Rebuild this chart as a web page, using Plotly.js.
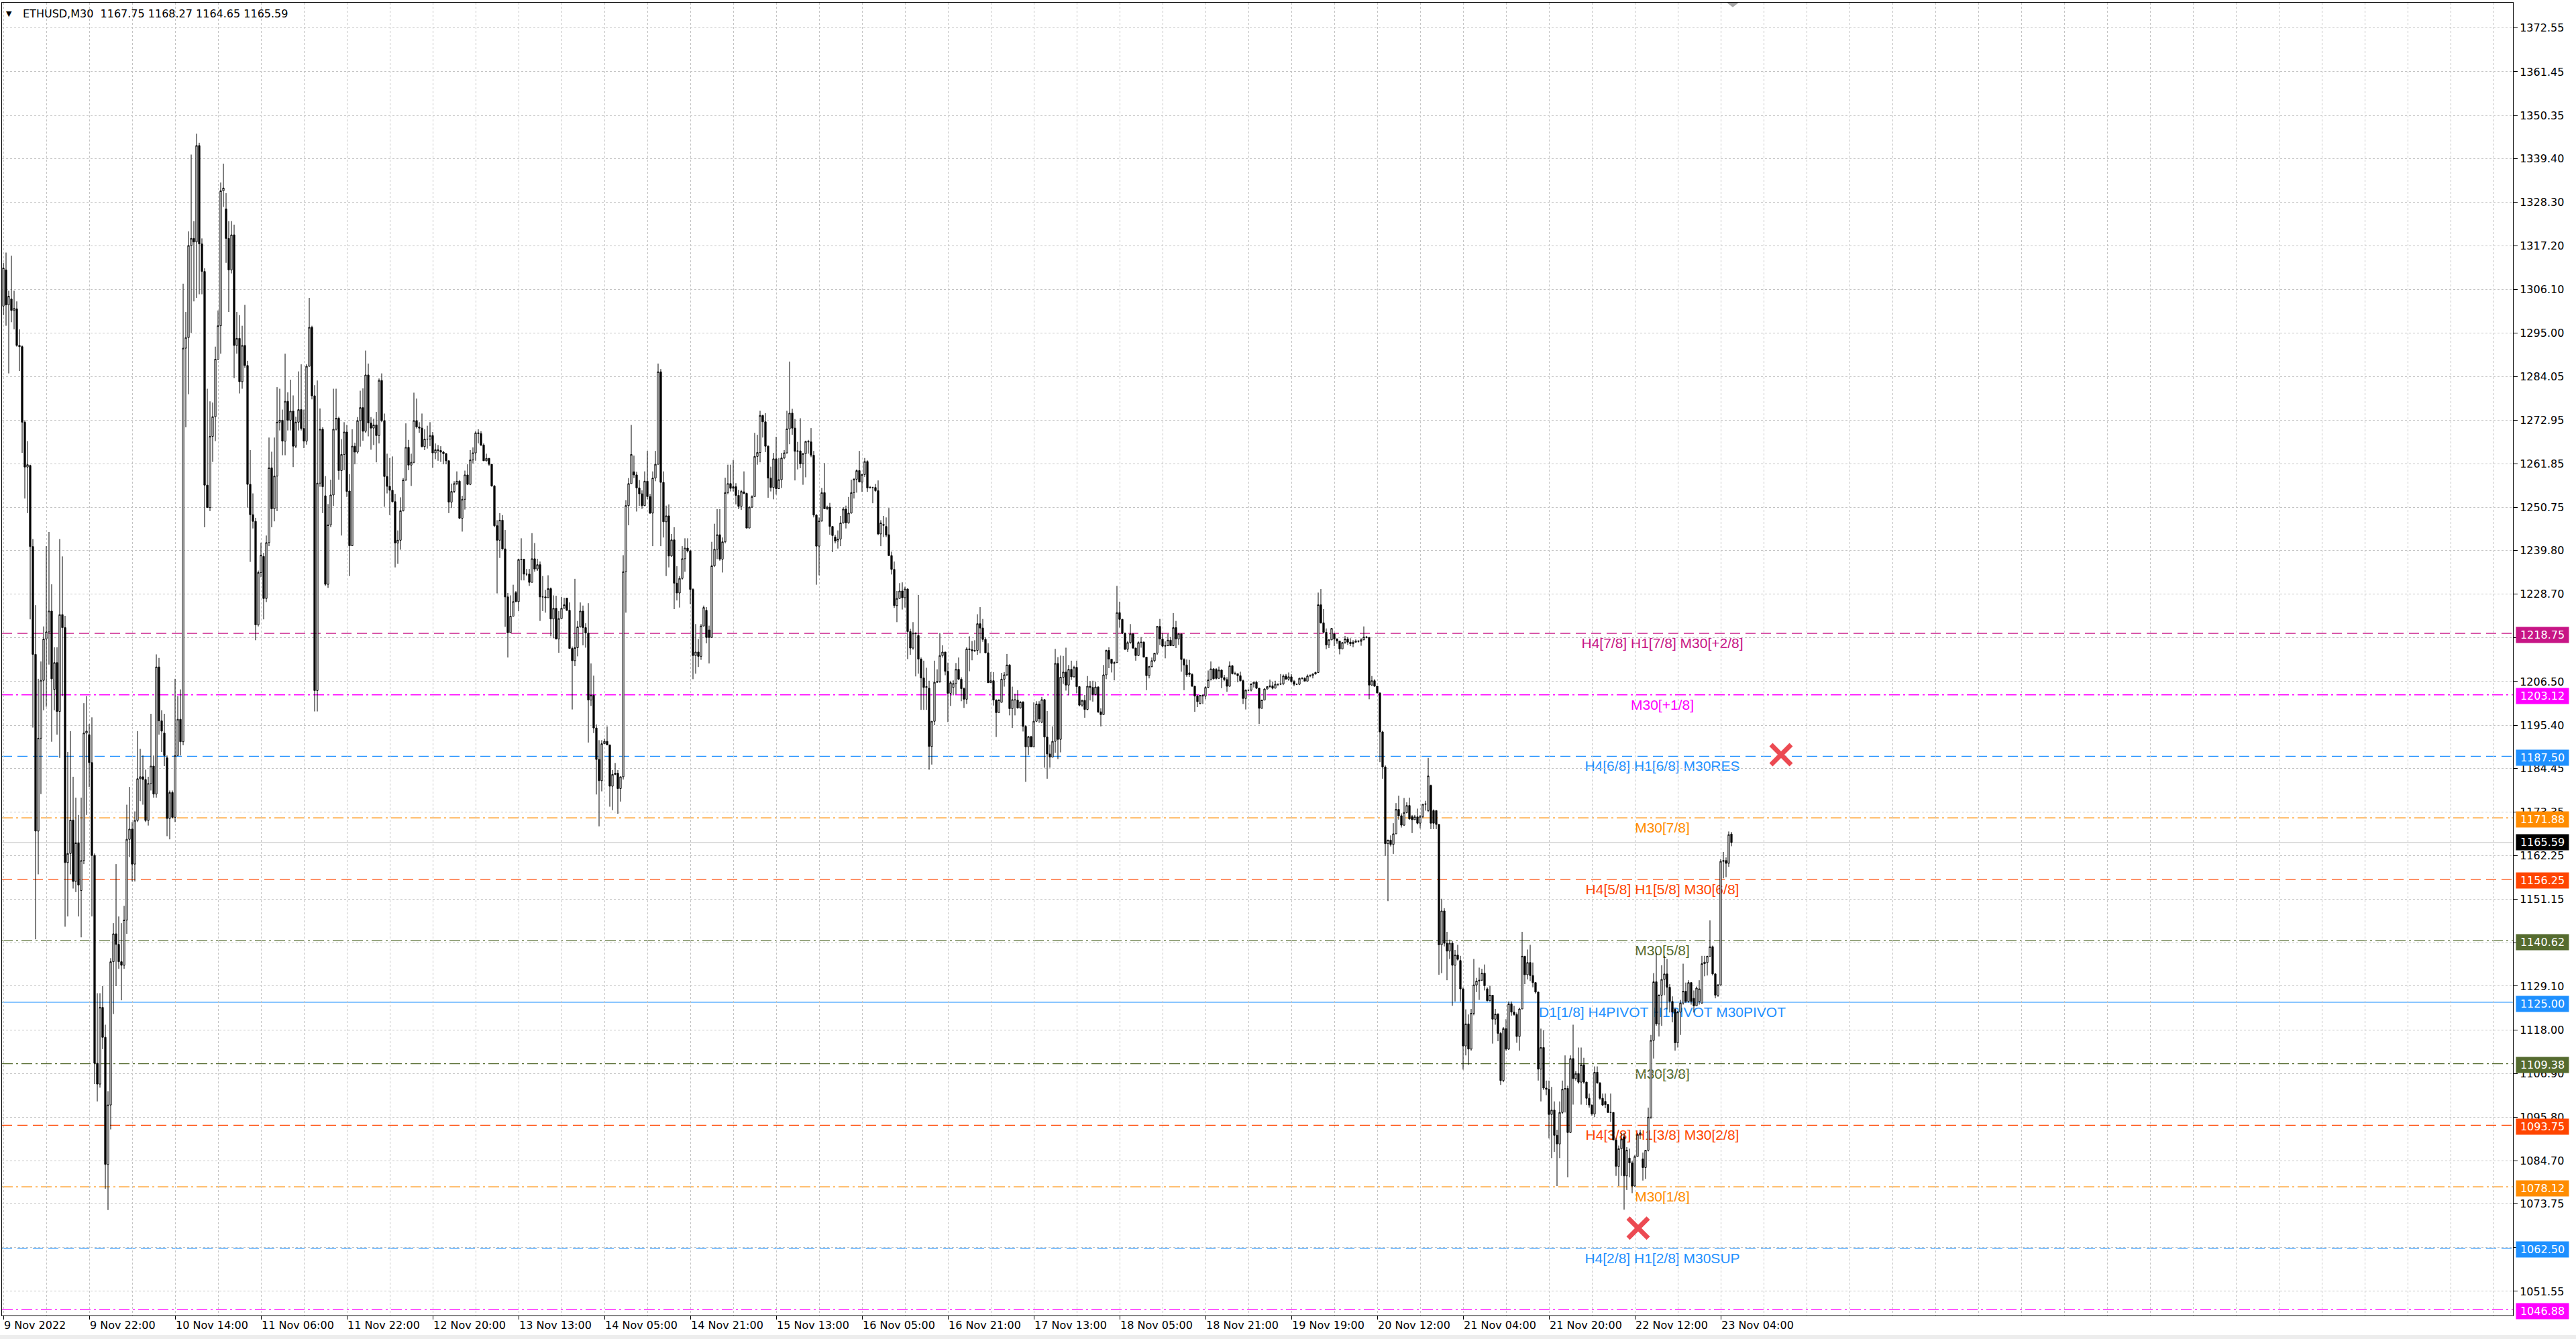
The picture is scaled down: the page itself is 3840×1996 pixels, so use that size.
<!DOCTYPE html>
<html>
<head>
<meta charset="utf-8">
<script src="https://cdn.plot.ly/plotly-3.0.1.min.js"></script>
<style>
  html, body { margin: 0; padding: 0; background: #ffffff; }
  #chart { width: 3840px; height: 1996px; }
</style>
</head>
<body>
<div id="chart"></div>
<script>
// ---------------- DATA (ETHUSD, M30) ----------------
const symbolTitle = "ETHUSD,M30";

const opens = [
1301.9,1311.1,1302.2,1303.7,1300.8,1301.2,1291.9,1291.6,1272.4,1261.0,
1261.4,1240.8,1213.4,1168.5,1192.1,1206.8,1217.3,1219.1,1224.4,1204.5,
1211.3,1198.9,1223.5,1220.2,1160.5,1162.8,1171.3,1155.7,1165.5,1153.4,
1161.0,1193.4,1193.0,1185.9,1162.3,1109.5,1104.2,1123.7,1116.1,1083.8,
1098.9,1135.3,1142.4,1139.7,1135.3,1134.4,1145.9,1166.4,1169.0,1160.1,
1171.2,1181.8,1182.3,1181.6,1171.2,1180.6,1185.0,1177.9,1210.2,1196.5,
1193.4,1187.1,1171.7,1178.3,1172.0,1187.7,1196.9,1191.2,1291.2,1293.9,
1317.3,1319.1,1318.2,1342.7,1317.7,1310.7,1256.4,1250.7,1268.8,1273.8,
1288.4,1296.9,1331.2,1326.6,1319.1,1311.1,1320.0,1291.9,1293.7,1282.7,
1291.9,1286.8,1256.6,1248.9,1247.2,1220.9,1234.2,1238.3,1227.6,1241.8,
1260.8,1250.4,1258.7,1272.4,1272.9,1267.6,1277.7,1272.9,1275.2,1266.3,
1272.4,1275.6,1270.8,1267.6,1286.6,1296.5,1279.1,1204.2,1256.9,1270.6,
1253.7,1231.2,1246.3,1253.9,1270.6,1273.4,1260.1,1264.2,1269.9,
1254.9,1241.0,1266.3,1264.8,1272.8,1276.1,1270.1,1284.4,1272.2,1270.9,
1271.7,1269.0,1283.0,1272.8,1258.6,1256.1,1255.1,1252.2,1241.7,1242.4,
1249.9,1257.7,1266.0,1261.5,1262.2,1272.8,1271.2,1270.9,1266.2,1268.1,
1268.1,1269.0,1264.6,1265.4,1265.2,1264.8,1264.4,1262.6,1252.1,1254.8,
1256.8,1257.4,1248.0,1252.8,1259.0,1256.6,1262.8,1264.6,1269.7,1269.5,
1266.6,1262.6,1263.2,1261.7,1256.2,1246.1,1242.4,1247.5,1240.2,1228.0,
1218.9,1223.1,1229.1,1226.8,1237.5,1237.6,1233.8,1233.8,1231.7,1237.7,
1235.1,1236.2,1228.0,1228.0,1227.8,1230.1,1222.4,1225.1,1217.3,1222.5,
1225.1,1227.7,1224.6,1214.9,1211.8,1215.1,1220.4,1224.4,1220.2,1218.8,
1201.8,1203.0,1194.7,1186.7,1181.3,1190.7,1191.3,1190.4,1179.9,1182.9,
1183.2,1179.3,1182.3,1234.4,1251.2,1256.8,1259.8,1259.0,1255.7,1254.2,
1251.2,1257.4,1253.5,1249.3,1258.2,1261.7,1285.2,1257.1,1247.1,1248.6,
1238.4,1242.5,1231.5,1229.0,1232.7,1237.7,1240.4,1239.7,1229.9,1213.1,
1214.0,1212.9,1220.6,
1224.6,1219.6,1217.7,1235.9,1240.1,1243.8,1237.6,1242.0,1254.5,1256.8,
1255.6,1256.0,1253.8,1251.0,1254.7,1254.3,1245.5,1250.8,1253.5,1263.7,
1264.7,1274.1,1272.5,1266.3,1258.2,1255.8,1263.1,1255.5,1257.8,1263.3,
1264.6,1270.7,1274.7,1270.9,1265.0,1265.1,1261.8,1264.4,1267.5,1267.4,
1264.0,1248.8,1240.9,1247.3,1254.5,1250.4,1250.8,1245.9,1243.2,1242.2,
1242.7,1246.8,1250.3,1246.8,1249.3,1254.5,1257.9,1260.1,1257.2,1259.1,
1262.4,1255.7,1255.8,1255.8,1255.0,1244.0,1246.4,1245.9,1243.8,1238.5,
1235.0,1225.8,1227.6,1229.5,1227.8,1230.0,1219.2,1215.0,1218.8,1218.2,
1212.2,1207.4,1205.0,1204.8,1190.0,1196.4,1206.3,1206.5,1213.1,1214.0,
1209.1,1203.5,1205.0,1206.0,1209.6,1207.1,1204.7,1202.0,1214.8,1214.6,
1214.3,1214.4,1221.2,1220.1,1217.2,1213.8,1206.2,1206.7,1201.8,1198.6,
1201.2,1207.1,1208.2,1210.7,1199.6,1201.9,1201.8,1199.8,1201.3,1195.1,
1189.9,1192.5,1189.9,1196.4,1200.8,1196.2,1201.9,1192.4,1188.1,
1187.3,1191.3,1211.1,1191.8,1207.6,1208.9,1205.6,1209.6,1207.7,1210.1,
1205.2,1200.5,1201.7,1199.4,1205.3,1205.0,1203.2,1205.1,1198.8,1198.1,
1208.2,1214.4,1212.2,1211.1,1211.3,1224.0,1222.3,1218.8,1214.7,1216.4,
1218.6,1215.0,1213.1,1216.4,1216.5,1212.7,1208.0,1210.3,1211.8,1213.7,
1220.5,1217.3,1215.5,1215.6,1217.0,1215.6,1220.2,1217.3,1218.6,1212.1,
1210.7,1208.7,1208.3,1205.3,1202.8,1200.9,1203.0,1202.8,1205.0,1206.9,
1209.7,1209.6,1207.3,1209.4,1207.5,1207.0,1205.3,1210.5,1208.5,1208.5,
1208.0,1206.7,1202.2,1204.3,1204.3,1205.9,1206.3,1204.8,1199.7,1201.8,
1204.6,1205.2,1205.4,1204.8,1205.8,1205.8,1205.9,1207.9,1207.1,1207.7,
1206.5,1205.8,1205.8,1207.3,1207.3,1206.6,1207.9,1208.0,1208.4,1208.8,
1226.0,1221.4,1219.0,1215.8,1217.1,1218.6,1217.3,1216.8,1214.8,1216.4,
1217.3,1216.5,1216.1,1216.5,1216.8,1216.7,1217.1,1217.8,1217.7,1205.6,
1206.7,1205.3,1203.6,1193.7,1184.8,1165.3,1166.2,1165.1,1167.8,1174.0,
1172.4,1170.0,1173.2,1175.0,1172.2,1171.4,1172.1,1170.5,1172.2,1175.3,
1173.7,1180.1,1173.7,1173.7,1170.2,1139.6,1148.2,1140.0,1138.0,1140.0,
1134.4,1137.0,1135.6,1128.4,1113.9,1119.5,1113.1,1122.2,1129.4,1130.4,
1130.6,1132.4,1128.4,1125.4,1126.8,1120.7,1122.0,1117.1,1105.1,1118.3,
1113.1,1124.6,1122.5,1121.9,1116.3,1123.3,1136.7,1132.0,1135.1,1131.8,
1130.0,1127.6,1108.0,1113.5,1103.2,1102.9,1096.5,1097.6,1091.2,1089.0,
1097.0,1102.9,1103.1,1091.9,1110.7,1105.6,1106.9,1104.7,1109.1,1104.7,
1100.6,1098.9,1096.6,1107.2,1104.5,1100.6,1099.8,1099.0,1097.0,1097.0,
1090.0,1083.3,1087.8,1090.8,1080.9,1085.4,1084.2,1078.3,1085.8,1091.4,
1085.2,1083.0,1087.4,1095.8,1115.3,1130.2,1119.5,1126.8,1130.8,1132.2,
1128.8,1125.2,1123.2,1114.7,1122.5,1124.8,1127.8,1125.2,1130.0,1126.0,
1124.1,1125.2,1124.8,1134.8,1135.1,1136.7,1139.1,1132.2,1126.8,1129.4,
1160.8,1161.0,1160.3,1167.75
];

const highs = [
1312.9,1315.5,1305.8,1314.7,1305.8,1303.1,1296.0,1291.9,1272.9,1267.6,
1261.6,1242.7,1225.9,1207.2,1211.6,1220.5,1240.9,1244.5,1231.2,1215.2,
1215.2,1242.7,1238.3,1223.2,1188.6,1193.9,1182.3,1177.0,1172.6,1177.0,
1201.0,1202.8,1195.7,1197.4,1162.8,1127.3,1127.3,1129.1,1119.3,1102.4,
1136.2,1145.1,1160.1,1146.8,1145.1,1149.5,1175.2,1179.7,1170.8,1173.5,
1193.9,1189.4,1187.7,1184.1,1182.3,1198.3,1187.7,1213.4,1212.5,1199.2,
1198.3,1187.7,1178.8,1178.8,1207.2,1202.8,1204.5,1307.6,1300.4,1320.9,
1340.4,1323.5,1345.7,1343.4,1319.1,1311.5,1280.9,1277.7,1277.4,1291.6,
1300.8,1333.3,1338.1,1330.6,1323.5,1323.5,1322.6,1300.4,1299.6,1296.9,
1302.2,1288.0,1265.3,1254.3,1248.1,1234.7,1241.8,1239.2,1243.6,1268.5,
1264.9,1268.5,1281.3,1280.9,1275.6,1289.8,1280.0,1283.2,1279.2,1273.8,
1285.3,1287.1,1275.6,1287.1,1304.0,1296.9,1281.8,1283.0,1275.9,1271.1,
1258.7,1251.6,1257.8,1280.9,1280.9,1273.8,1268.1,1272.4,1271.7,
1259.2,1270.6,1267.2,1273.7,1280.4,1281.0,1290.6,1287.3,1273.7,1273.3,
1275.0,1283.5,1284.8,1274.6,1264.4,1263.3,1263.7,1254.2,1244.9,1253.3,
1258.2,1272.1,1267.9,1264.4,1279.9,1278.4,1272.4,1274.6,1270.6,1271.5,
1272.4,1269.9,1267.0,1266.6,1266.3,1265.1,1264.6,1262.6,1256.8,1257.4,
1259.9,1257.7,1253.7,1260.1,1261.7,1265.3,1266.0,1270.1,1270.6,1270.1,
1267.0,1264.4,1263.3,1261.7,1256.4,1247.5,1249.3,1248.8,1245.0,1229.0,
1228.4,1231.1,1229.5,1237.7,1242.9,1237.7,1235.1,1235.1,1244.2,1241.7,
1237.7,1237.0,1233.3,1229.8,1233.5,1230.4,1228.4,1228.3,1224.4,1228.0,
1227.8,1227.8,1226.6,1215.4,1232.6,1221.9,1226.6,1225.8,1221.3,1226.4,
1211.1,1208.0,1195.6,1191.6,1191.6,1192.0,1195.1,1190.4,1184.0,1185.8,
1184.0,1182.3,1238.6,1252.6,1258.2,1271.7,1263.9,1259.8,1257.7,1255.1,
1259.9,1265.1,1254.2,1259.9,1265.1,1287.3,1285.9,1259.9,1251.2,1251.5,
1244.0,1245.7,1235.8,1233.3,1240.9,1242.9,1242.9,1240.0,1230.2,1221.1,
1217.3,1221.1,1225.8,
1225.4,1220.7,1242.0,1246.6,1250.3,1250.3,1243.1,1258.3,1261.6,1261.6,
1262.8,1256.9,1255.2,1255.2,1259.9,1254.5,1251.0,1253.8,1269.7,1269.2,
1275.3,1274.3,1274.7,1266.5,1261.1,1264.6,1268.7,1263.3,1264.6,1265.3,
1275.3,1287.8,1275.8,1273.2,1267.4,1273.4,1264.6,1267.7,1267.9,1270.9,
1265.1,1249.0,1248.2,1255.7,1262.0,1251.2,1251.9,1245.9,1243.8,1244.9,
1248.6,1250.8,1251.2,1253.4,1257.8,1258.2,1260.4,1265.1,1259.3,1263.3,
1262.7,1256.2,1256.0,1256.7,1257.6,1247.5,1248.6,1248.2,1250.6,1239.5,
1237.0,1229.5,1231.5,1231.7,1230.6,1230.2,1219.9,1221.6,1219.0,1228.5,
1212.6,1211.8,1210.0,1206.7,1196.4,1211.8,1209.6,1218.8,1215.7,1214.0,
1211.3,1206.7,1206.8,1211.2,1212.6,1207.6,1205.0,1215.2,1218.0,1216.8,
1217.0,1223.6,1225.4,1222.4,1217.7,1216.2,1208.9,1208.9,1202.0,1202.0,
1208.7,1208.9,1213.5,1210.9,1205.2,1203.4,1204.3,1201.5,1201.5,1195.4,
1192.7,1192.7,1201.2,1201.5,1201.5,1202.6,1202.0,1199.0,1190.5,
1195.1,1214.8,1212.7,1213.1,1213.0,1215.1,1210.7,1211.8,1210.5,1211.8,
1205.3,1201.9,1203.1,1207.9,1206.6,1206.7,1206.5,1205.3,1199.7,1210.7,
1214.6,1215.2,1212.2,1211.6,1230.8,1226.8,1222.4,1218.8,1216.8,1221.1,
1218.8,1215.1,1216.7,1217.8,1216.7,1212.8,1210.5,1212.6,1213.7,1220.6,
1222.4,1218.8,1216.7,1218.6,1217.8,1223.9,1221.9,1218.8,1218.6,1212.4,
1212.1,1212.0,1208.6,1205.4,1203.1,1203.1,1203.3,1205.3,1209.3,1211.6,
1209.9,1209.9,1210.3,1209.6,1208.2,1207.6,1211.6,1210.7,1209.0,1208.5,
1209.0,1207.0,1204.5,1204.5,1206.0,1206.5,1206.7,1204.9,1201.9,1204.8,
1205.2,1207.0,1206.5,1206.7,1206.0,1208.4,1208.3,1208.4,1208.8,1208.4,
1206.9,1206.0,1207.5,1207.6,1207.6,1208.3,1208.3,1208.6,1209.0,1229.1,
1230.0,1224.9,1220.0,1217.3,1220.0,1218.9,1217.5,1216.8,1216.5,1218.1,
1217.8,1217.5,1217.0,1217.2,1217.0,1217.5,1220.5,1218.1,1217.8,1207.9,
1207.1,1205.4,1203.7,1194.0,1185.2,1166.3,1167.4,1170.5,1175.6,1177.5,
1173.0,1176.9,1175.8,1177.0,1172.6,1172.6,1174.2,1172.6,1175.4,1176.2,
1187.1,1180.3,1174.0,1173.8,1170.2,1151.3,1148.9,1142.9,1140.9,1140.5,
1138.3,1139.6,1136.8,1128.8,1123.2,1121.9,1123.3,1136.0,1131.2,1133.8,
1133.5,1134.6,1128.8,1129.2,1126.8,1123.3,1122.2,1117.5,1118.7,1120.7,
1125.2,1125.2,1124.1,1122.4,1123.6,1142.9,1136.8,1138.4,1139.6,1135.1,
1130.0,1127.6,1118.3,1117.9,1105.1,1105.1,1103.5,1099.8,1092.6,1099.8,
1105.1,1111.5,1103.8,1111.5,1119.3,1107.5,1113.5,1113.5,1110.9,1104.8,
1101.8,1099.0,1108.7,1108.7,1104.7,1101.8,1101.8,1099.0,1101.8,1097.0,
1090.6,1088.6,1091.8,1091.8,1088.2,1087.8,1084.7,1086.2,1091.8,1092.6,
1086.8,1087.4,1098.2,1116.7,1132.4,1137.6,1127.0,1134.4,1136.8,1136.0,
1129.6,1126.5,1123.6,1122.8,1125.6,1134.8,1130.0,1130.6,1130.0,1128.0,
1129.0,1130.6,1136.8,1136.8,1136.8,1145.8,1139.4,1132.4,1129.6,1161.4,
1163.2,1161.8,1168.4,1168.27
];

const lows = [
1299.6,1296.9,1284.8,1297.8,1296.0,1291.6,1285.4,1264.6,1253.0,1249.3,
1222.3,1194.8,1141.0,1157.5,1177.9,1199.2,1200.1,1210.8,1191.2,1199.2,
1193.0,1187.1,1202.8,1144.2,1146.8,1157.5,1153.9,1153.0,1146.8,1141.5,
1160.1,1172.6,1179.7,1146.8,1104.2,1099.8,1103.3,1113.1,1077.6,1072.2,
1092.7,1122.0,1129.1,1133.5,1125.5,1133.5,1142.4,1161.9,1155.7,1155.7,
1170.8,1176.1,1175.2,1170.8,1169.9,1178.8,1177.0,1177.0,1193.0,1188.6,
1185.0,1167.2,1166.4,1171.7,1170.8,1187.7,1187.7,1190.3,1271.1,1279.5,
1295.1,1303.1,1304.0,1304.9,1304.9,1245.7,1250.7,1249.8,1262.3,1267.6,
1288.4,1289.8,1327.1,1312.9,1300.4,1310.2,1283.6,1289.8,1279.7,1280.9,
1286.2,1250.7,1236.9,1245.4,1217.0,1220.5,1233.0,1222.3,1226.7,1240.9,
1245.7,1247.2,1249.8,1270.3,1264.0,1264.0,1270.3,1270.3,1261.0,1265.8,
1270.3,1270.3,1265.8,1266.7,1286.6,1278.2,1198.9,1198.9,1256.0,1249.3,
1230.8,1230.3,1245.7,1251.1,1270.3,1257.8,1243.6,1260.2,1253.4,
1233.3,1241.0,1261.7,1264.4,1266.2,1267.7,1269.7,1268.8,1265.4,1266.6,
1262.2,1267.0,1272.4,1250.9,1254.3,1248.8,1252.0,1235.5,1236.4,1240.0,
1249.7,1257.5,1260.2,1256.2,1262.0,1270.8,1269.7,1266.0,1265.3,1265.7,
1266.3,1260.8,1263.0,1262.6,1262.3,1261.7,1261.7,1249.3,1250.6,1254.4,
1256.4,1247.8,1244.6,1250.2,1256.4,1256.4,1261.9,1262.6,1267.0,1266.3,
1262.6,1262.4,1261.3,1256.0,1245.7,1228.9,1237.9,1240.0,1220.4,1212.6,
1218.8,1223.1,1226.7,1224.4,1232.2,1232.2,1233.3,1230.8,1231.7,1234.4,
1234.6,1221.9,1224.4,1224.0,1227.8,1218.0,1217.5,1217.2,1213.8,1222.4,
1225.1,1224.4,1214.9,1199.4,1210.4,1212.9,1220.2,1215.7,1215.1,1191.0,
1200.3,1193.4,1177.8,1169.7,1178.6,1190.7,1190.3,1174.7,1173.8,1182.7,
1172.9,1176.0,1181.6,1224.0,1246.2,1256.8,1258.2,1249.7,1251.1,1250.4,
1251.1,1252.8,1249.1,1240.9,1257.4,1261.7,1240.9,1243.1,1233.3,1235.5,
1238.2,1224.9,1227.1,1225.3,1232.4,1234.4,1239.3,1226.2,1207.1,1208.5,
1210.2,1212.0,1220.6,
1216.2,1211.1,1217.7,1235.6,1237.6,1237.2,1234.2,1241.6,1254.1,1254.8,
1254.8,1251.5,1250.3,1250.1,1254.1,1245.5,1245.5,1250.6,1253.5,1261.6,
1262.2,1268.5,1264.8,1253.2,1254.8,1252.8,1254.0,1255.5,1255.7,1263.0,
1264.4,1266.8,1269.2,1257.6,1260.4,1260.7,1256.5,1258.4,1264.4,1263.5,
1248.2,1231.1,1233.5,1247.1,1250.3,1250.1,1243.8,1239.4,1241.6,1240.3,
1240.9,1246.6,1245.4,1246.6,1249.2,1253.0,1254.5,1257.1,1254.7,1258.5,
1254.7,1255.7,1251.8,1254.7,1243.7,1240.9,1243.2,1243.2,1238.5,1233.7,
1225.2,1221.6,1227.6,1224.8,1225.3,1212.2,1213.3,1214.6,1207.8,1208.5,
1199.3,1199.3,1199.3,1184.1,1185.4,1195.4,1206.2,1206.2,1212.6,1208.1,
1196.2,1200.3,1203.0,1203.2,1206.9,1201.5,1199.8,1200.8,1209.1,1211.9,
1214.0,1213.3,1213.7,1216.6,1213.7,1206.2,1206.2,1200.4,1192.4,1198.6,
1201.2,1205.2,1207.9,1197.9,1194.7,1197.9,1199.6,1199.6,1193.8,1181.0,
1187.8,1189.8,1189.8,1196.2,1196.0,1195.9,1184.6,1181.8,1184.6,
1187.2,1188.4,1186.8,1188.5,1205.9,1204.2,1203.0,1206.9,1207.5,1203.5,
1200.2,1200.1,1197.3,1199.2,1201.7,1201.4,1203.0,1198.5,1195.1,1198.0,
1207.1,1209.9,1208.8,1206.8,1211.3,1220.2,1218.6,1214.5,1214.0,1216.1,
1214.8,1211.8,1213.0,1215.1,1212.6,1204.3,1207.3,1210.1,1211.4,1213.3,
1215.8,1215.2,1212.4,1215.5,1215.5,1215.5,1215.0,1215.8,1209.0,1204.3,
1207.7,1207.7,1205.2,1198.8,1200.0,1200.7,1200.8,1202.0,1204.8,1206.8,
1207.0,1207.0,1207.3,1204.8,1206.6,1203.9,1205.2,1208.3,1208.2,1206.3,
1206.5,1200.8,1199.4,1204.2,1204.0,1205.0,1204.6,1195.7,1199.6,1201.7,
1204.5,1204.9,1204.5,1204.8,1205.3,1205.6,1205.6,1207.0,1206.7,1206.2,
1205.3,1205.6,1205.6,1207.0,1206.5,1206.5,1207.6,1207.3,1208.3,1208.7,
1221.2,1218.8,1214.7,1215.0,1217.0,1215.5,1216.1,1213.4,1214.7,1216.1,
1215.8,1215.5,1215.2,1216.4,1216.4,1215.6,1217.0,1217.5,1202.0,1205.4,
1205.2,1203.5,1186.0,1181.8,1162.2,1150.7,1164.6,1162.7,1167.8,1171.4,
1169.4,1169.8,1173.0,1171.4,1168.0,1171.4,1170.2,1169.2,1171.8,1173.7,
1173.4,1169.0,1169.0,1169.0,1132.0,1132.4,1139.2,1130.6,1136.0,1124.1,
1125.2,1135.6,1125.2,1107.9,1111.5,1109.1,1112.7,1121.7,1127.6,1125.6,
1130.4,1128.0,1125.2,1125.2,1114.5,1119.3,1115.1,1104.0,1104.7,1112.7,
1112.9,1121.6,1121.6,1114.7,1112.7,1123.3,1129.6,1130.8,1130.4,1128.8,
1127.2,1105.1,1099.8,1102.7,1101.4,1090.4,1085.4,1087.0,1078.3,1085.4,
1096.6,1097.0,1080.5,1091.8,1099.0,1105.1,1104.3,1099.0,1104.3,1098.9,
1098.2,1096.2,1095.8,1104.3,1100.2,1098.6,1098.1,1097.0,1094.6,1090.0,
1080.9,1078.3,1080.9,1072.3,1077.3,1080.5,1076.5,1078.1,1085.8,1090.2,
1079.7,1080.1,1087.1,1095.4,1110.7,1119.0,1116.3,1119.0,1126.8,1123.2,
1122.4,1119.9,1112.7,1113.5,1116.7,1124.4,1124.8,1124.9,1124.4,1122.4,
1124.0,1124.4,1124.6,1131.6,1131.8,1136.7,1131.8,1126.0,1126.4,1129.2,
1156.5,1156.8,1159.4,1164.65
];

const closes = [
1311.6,1302.2,1304.4,1300.8,1301.3,1291.9,1291.6,1272.4,1261.0,1261.6,
1240.8,1213.4,1168.5,1192.1,1206.8,1217.3,1219.1,1224.4,1207.2,1211.3,
1198.9,1223.5,1220.2,1160.5,1162.8,1171.3,1155.7,1165.5,1154.8,1161.0,
1193.4,1193.9,1185.9,1162.3,1109.5,1104.2,1123.7,1116.1,1083.8,1098.9,
1135.3,1142.4,1139.7,1135.3,1134.4,1145.9,1166.4,1169.0,1160.1,1171.2,
1181.8,1182.3,1181.6,1171.2,1180.6,1185.0,1177.9,1210.2,1196.5,1193.9,
1187.7,1171.7,1178.3,1172.0,1187.7,1196.9,1191.2,1291.2,1293.9,1317.3,
1319.1,1318.2,1342.7,1317.7,1310.7,1256.4,1250.7,1268.8,1273.8,1288.4,
1296.9,1331.2,1331.9,1319.1,1311.1,1320.0,1291.9,1293.7,1282.7,1291.9,
1286.8,1256.6,1248.9,1247.2,1220.9,1234.2,1238.6,1227.6,1241.8,1260.8,
1250.4,1258.7,1272.4,1272.9,1267.6,1277.7,1272.9,1275.2,1266.3,1272.4,
1275.6,1270.8,1267.6,1286.6,1296.5,1279.1,1204.2,1256.9,1270.6,1256.0,
1231.2,1246.3,1253.9,1270.6,1273.4,1260.1,1264.2,1269.9,1254.8,
1241.0,1266.3,1264.8,1272.8,1276.1,1270.1,1284.4,1272.2,1270.9,1271.7,
1269.0,1283.0,1272.8,1258.6,1256.1,1255.1,1252.2,1241.7,1242.4,1249.9,
1257.7,1266.0,1261.5,1262.2,1272.8,1271.2,1270.9,1266.2,1268.1,1268.1,
1269.0,1264.6,1265.4,1265.2,1264.8,1264.4,1262.6,1252.1,1254.8,1256.8,
1257.4,1248.0,1252.8,1259.0,1256.6,1262.8,1264.6,1269.7,1269.5,1266.6,
1262.6,1263.2,1261.7,1256.2,1246.1,1242.4,1247.5,1240.2,1228.0,1218.9,
1223.1,1226.8,1226.8,1237.5,1237.6,1233.8,1233.8,1231.7,1237.7,1235.1,
1236.2,1228.0,1228.0,1227.8,1230.1,1222.4,1225.1,1217.3,1222.5,1225.1,
1226.0,1224.6,1214.9,1211.8,1215.1,1220.4,1224.4,1220.2,1218.8,1201.8,
1203.0,1194.7,1186.7,1181.3,1190.7,1191.3,1190.4,1179.9,1182.9,1183.2,
1179.3,1182.3,1234.4,1251.2,1256.8,1264.2,1259.0,1255.7,1254.2,1251.2,
1257.4,1253.5,1249.3,1258.2,1261.7,1285.2,1257.1,1247.1,1248.6,1238.4,
1242.5,1231.5,1229.0,1232.7,1237.7,1240.4,1239.7,1229.9,1213.1,1214.0,
1212.9,1220.6,1225.3,
1217.7,1217.7,1235.9,1240.1,1243.8,1237.6,1242.0,1254.5,1256.8,1255.6,
1256.0,1253.8,1251.0,1254.8,1254.3,1245.5,1250.8,1253.5,1263.7,1264.7,
1274.1,1272.5,1266.3,1258.2,1255.8,1263.1,1255.5,1257.8,1263.3,1264.6,
1270.7,1274.7,1270.9,1265.0,1265.1,1261.8,1264.4,1267.5,1267.4,1264.0,
1248.8,1240.9,1247.3,1254.5,1250.4,1250.8,1245.9,1243.6,1242.2,1242.7,
1246.8,1250.3,1246.8,1249.3,1254.5,1257.9,1260.1,1257.2,1259.1,1262.4,
1255.7,1255.8,1255.8,1255.0,1244.0,1246.8,1246.2,1243.7,1238.5,1235.0,
1225.8,1227.6,1229.5,1227.8,1230.0,1219.2,1215.0,1218.8,1218.7,1212.2,
1207.4,1205.0,1205.2,1190.0,1196.4,1206.3,1206.5,1213.1,1214.0,1209.1,
1203.5,1206.2,1206.0,1209.6,1207.1,1204.7,1202.0,1214.8,1214.6,1214.3,
1214.4,1221.2,1220.1,1217.2,1213.8,1206.2,1206.7,1201.8,1198.6,1201.8,
1207.1,1208.2,1210.7,1199.6,1201.9,1201.8,1199.8,1201.3,1195.1,1189.9,
1192.5,1189.9,1196.4,1200.8,1197.0,1201.9,1192.4,1188.1,1187.3,
1191.3,1211.1,1191.8,1207.6,1208.9,1205.6,1209.6,1207.7,1210.1,1205.2,
1200.5,1201.7,1199.4,1205.3,1205.0,1203.2,1205.1,1198.8,1198.1,1208.2,
1214.4,1212.2,1211.1,1211.3,1224.0,1222.3,1218.8,1214.7,1216.4,1218.6,
1215.0,1213.1,1216.4,1216.5,1212.7,1208.0,1210.3,1211.8,1213.7,1220.5,
1217.3,1215.5,1215.6,1217.0,1215.6,1220.2,1217.3,1218.6,1212.1,1210.7,
1208.2,1208.3,1205.3,1202.8,1201.4,1203.0,1202.8,1205.0,1206.9,1209.7,
1207.2,1207.3,1209.4,1207.5,1207.0,1205.3,1210.5,1208.5,1208.5,1208.0,
1206.7,1202.2,1204.3,1204.3,1205.9,1206.3,1204.8,1199.7,1201.8,1204.6,
1205.2,1205.4,1204.8,1205.8,1205.8,1205.9,1207.9,1207.1,1207.7,1206.5,
1205.8,1205.8,1207.3,1207.3,1206.6,1207.9,1208.0,1208.4,1208.8,1226.0,
1221.4,1219.0,1215.8,1217.1,1220.0,1217.3,1216.8,1214.8,1216.4,1217.3,
1216.5,1216.1,1216.5,1216.8,1216.7,1217.1,1217.8,1217.7,1205.6,1206.7,
1205.3,1203.6,1193.7,1184.8,1165.3,1166.2,1165.1,1167.8,1174.0,1172.4,
1170.0,1173.2,1175.0,1171.6,1171.4,1172.1,1170.5,1172.2,1175.3,1175.4,
1182.5,1170.5,1170.5,1170.2,1139.6,1148.2,1140.0,1138.0,1140.0,1134.4,
1137.0,1135.9,1128.4,1113.9,1119.5,1113.1,1122.2,1129.4,1130.4,1130.6,
1132.4,1129.2,1125.4,1126.8,1120.7,1122.0,1117.1,1105.1,1118.3,1113.1,
1124.6,1122.5,1121.9,1116.3,1123.3,1136.7,1132.0,1135.1,1131.8,1130.0,
1127.6,1108.0,1113.5,1103.2,1102.9,1096.5,1097.6,1091.2,1089.0,1097.0,
1102.9,1103.1,1091.9,1110.7,1105.6,1106.9,1104.7,1109.1,1104.7,1100.6,
1098.9,1096.6,1107.2,1104.5,1100.6,1098.9,1099.0,1097.0,1097.0,1090.0,
1083.3,1087.8,1090.2,1080.9,1087.4,1084.2,1078.3,1085.8,1091.4,1091.8,
1083.0,1087.4,1095.8,1115.3,1130.2,1119.5,1126.8,1130.8,1132.2,1128.8,
1125.2,1122.5,1114.7,1122.5,1124.8,1127.8,1125.2,1130.0,1125.2,1124.1,
1128.6,1128.4,1134.8,1135.2,1136.7,1139.1,1132.2,1126.8,1129.4,1160.8,
1161.0,1160.3,1167.6,1165.59
];

// time axis (bar positions of the date labels, one label every 32 bars)
const timeTickBars = [0,32,64,96,128,160,192,224,256,288,320,352,384,416,448,480,512,544,576,608,640];
const timeTickLabels = ["9 Nov 2022","9 Nov 22:00","10 Nov 14:00","11 Nov 06:00","11 Nov 22:00",
  "12 Nov 20:00","13 Nov 13:00","14 Nov 05:00","14 Nov 21:00","15 Nov 13:00","16 Nov 05:00",
  "16 Nov 21:00","17 Nov 13:00","18 Nov 05:00","18 Nov 21:00","19 Nov 19:00","20 Nov 12:00",
  "21 Nov 04:00","21 Nov 20:00","22 Nov 12:00","23 Nov 04:00"];

// price axis labels
const priceTicks = [1372.55,1361.45,1350.35,1339.40,1328.30,1317.20,1306.10,1295.00,1284.05,1272.95,
  1261.85,1250.75,1239.80,1228.70,1217.60,1206.50,1195.40,1184.45,1173.35,1162.25,1151.15,1140.05,
  1129.10,1118.00,1106.90,1095.80,1084.70,1073.75,1062.65,1051.55];

// Murrey-math levels
const levelPrices = [1218.75,1203.12,1187.50,1171.88,1156.25,1140.62,1125.00,1109.38,1093.75,1078.12,1062.50,1046.88];
const levelNames = ["H4[7/8] H1[7/8] M30[+2/8]","M30[+1/8]","H4[6/8] H1[6/8] M30RES","M30[7/8]",
  "H4[5/8] H1[5/8] M30[6/8]","M30[5/8]","D1[1/8] H4PIVOT H1PIVOT M30PIVOT","M30[3/8]",
  "H4[3/8] H1[3/8] M30[2/8]","M30[1/8]","H4[2/8] H1[2/8] M30SUP","M30[-1/8]"];
const levelColors = ["#C71585","#FF00FF","#1E90FF","#FF8C00","#FF4500","#556B2F","#1E90FF","#556B2F","#FF4500","#FF8C00","#1E90FF","#FF00FF"];
const levelStyles = ["dash","dashdot","dash","dashdot","dash","dashdot","solid","dashdot","dash","dashdot","dash","dashdot"];

// red signal crosses
const signalBars = [662.5, 609.25];
const signalPrices = [1187.9, 1067.6];

// ---------------- CHART ----------------
const barIdx = closes.map((_, i) => i);
const lastPrice = closes[closes.length - 1];
const yRange = [1045.4, 1379.0];
const xRange = [-0.5, 935.25];
const labelBar = 618.25;
const gridColor = "#C4C4C4";
const mono = "DejaVu Sans, Verdana, sans-serif";
const labelFont = "Liberation Sans, Arial, sans-serif";

const dashMap = { dash: "15px,8px", dashdot: "16px,5px,3px,5px", solid: "solid" };

const shapes = [];
const annotations = [];

levelPrices.forEach((p, i) => {
  shapes.push({
    type: "line", layer: "below", xref: "paper", yref: "y",
    x0: 0, x1: 1, y0: p, y1: p,
    line: { color: levelColors[i], width: levelStyles[i] === "solid" ? 1 : 1.3, dash: dashMap[levelStyles[i]] }
  });
  if (p - 6 > yRange[0]) {
    shapes.push({
      type: "line", layer: "below", xref: "x", yref: "y",
      x0: labelBar - 20, x1: labelBar + 20, y0: p, y1: p,
      line: { color: "rgba(0,0,0,0)", width: 1 },
      label: {
        text: levelNames[i], textposition: "middle", yanchor: "top", textangle: 0, padding: 1,
        font: { family: labelFont, size: 21, color: levelColors[i] }
      }
    });
  }
  annotations.push({
    xref: "paper", yref: "y", x: 1, y: p, xanchor: "left", yanchor: "middle",
    xshift: 4, yshift: -2,
    text: p.toFixed(2), showarrow: false,
    bgcolor: levelColors[i], borderpad: 2, width: 74, height: 19,
    font: { family: mono, size: 16, color: "#FFFFFF" }
  });
});

// current price line + label
shapes.push({
  type: "line", layer: "below", xref: "paper", yref: "y",
  x0: 0, x1: 1, y0: lastPrice, y1: lastPrice,
  line: { color: "#C0C0C0", width: 1 }
});
annotations.push({
  xref: "paper", yref: "y", x: 1, y: lastPrice, xanchor: "left", yanchor: "middle",
  xshift: 4, text: lastPrice.toFixed(2), showarrow: false,
  bgcolor: "#000000", borderpad: 2, width: 74, height: 19,
  font: { family: mono, size: 16, color: "#FFFFFF" }
});

// chart-shift marker at top
shapes.push({
  type: "path", xref: "x", yref: "paper", layer: "above",
  path: "M 642.3,1 L 646.7,1 L 644.5,0.9965 Z",
  fillcolor: "#A8A8A8", line: { width: 0 }
});
// window bottom band
shapes.push({
  type: "rect", xref: "paper", yref: "paper", layer: "above",
  x0: -0.002, x1: 1.03, y0: -0.0181, y1: -0.0148,
  fillcolor: "#EDEDED", line: { width: 0 }
});

// header
annotations.push({
  xref: "paper", yref: "paper", x: 0.0078, y: 0.9918, xanchor: "left", yanchor: "middle",
  text: symbolTitle + "\u00A0 " + [opens[opens.length-1], highs[highs.length-1], lows[lows.length-1], closes[closes.length-1]].map(v => v.toFixed(2)).join(" "),
  showarrow: false, font: { family: mono, size: 16, color: "#000000" }
});
annotations.push({
  xref: "paper", yref: "paper", x: 0.0027, y: 0.9918, xanchor: "center", yanchor: "middle",
  text: "\u25BC", showarrow: false, font: { family: mono, size: 11, color: "#000000" }
});

const candles = {
  type: "candlestick",
  x: barIdx, open: opens, high: highs, low: lows, close: closes,
  increasing: { line: { color: "#000000", width: 1 }, fillcolor: "#FFFFFF" },
  decreasing: { line: { color: "#000000", width: 1 }, fillcolor: "#000000" },
  whiskerwidth: 0, hoverinfo: "skip", showlegend: false
};

const crosses = {
  type: "scatter", mode: "markers", x: signalBars, y: signalPrices,
  marker: { symbol: "x-thin", size: 30, color: "#EC4A52", line: { width: 7, color: "#EC4A52" } },
  hoverinfo: "skip", showlegend: false
};

const layout = {
  width: 3840, height: 1996,
  margin: { l: 3, r: 94, t: 4, b: 35, pad: 0 },
  paper_bgcolor: "#FFFFFF", plot_bgcolor: "#FFFFFF",
  showlegend: false,
  boxgap: 0.45, boxgroupgap: 0,
  font: { family: mono, size: 16, color: "#000000" },
  xaxis: {
    type: "linear", range: xRange, fixedrange: true,
    rangeslider: { visible: false },
    tickmode: "array", tickvals: timeTickBars, ticktext: timeTickLabels,
    ticks: "outside", ticklen: 5, tickwidth: 1, tickcolor: "#000000",
    ticklabelposition: "outside right",
    tickfont: { family: mono, size: 16, color: "#000000" },
    showgrid: true, gridcolor: gridColor, gridwidth: 1, griddash: "3px,3px",
    minor: { tickmode: "linear", tick0: 0, dtick: 16, showgrid: true, gridcolor: gridColor, gridwidth: 1, griddash: "3px,3px", ticks: "" },
    showline: true, linecolor: "#000000", linewidth: 1, mirror: true,
    zeroline: false
  },
  yaxis: {
    side: "right", range: yRange, fixedrange: true,
    tickmode: "array", tickvals: priceTicks, ticktext: priceTicks.map(v => v.toFixed(2)),
    ticks: "outside", ticklen: 6, tickwidth: 1, tickcolor: "#000000",
    tickfont: { family: mono, size: 16, color: "#000000" },
    showgrid: true, gridcolor: gridColor, gridwidth: 1, griddash: "3px,3px",
    showline: true, linecolor: "#000000", linewidth: 1, mirror: true,
    zeroline: false
  },
  shapes: shapes,
  annotations: annotations
};

Plotly.newPlot("chart", [candles, crosses], layout, { staticPlot: true, displayModeBar: false });
</script>
</body>
</html>
